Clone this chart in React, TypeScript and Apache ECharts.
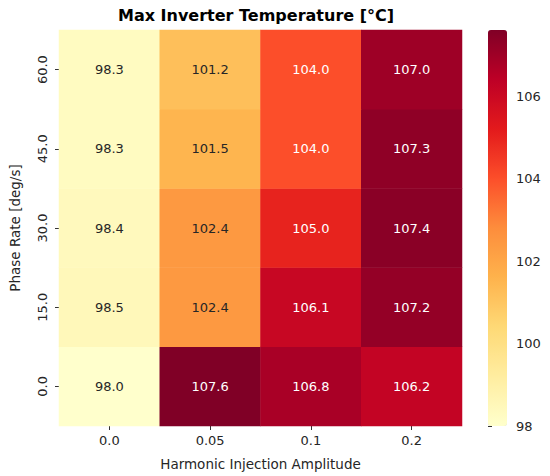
import React, { useEffect, useRef } from "react";
import * as echarts from "echarts";

const xCategories = ["0.0", "0.05", "0.1", "0.2"];
const yCategories = ["0.0", "15.0", "30.0", "45.0", "60.0"];
// rows indexed by yCategories (bottom to top), columns by xCategories
const values: number[][] = [
  [98.0, 107.6, 106.8, 106.2],
  [98.5, 102.4, 106.1, 107.2],
  [98.4, 102.4, 105.0, 107.4],
  [98.3, 101.5, 104.0, 107.3],
  [98.3, 101.2, 104.0, 107.0],
];
const colorMin = 98.0;
const colorMax = 107.6;
const colorbarTicks = [98, 100, 102, 104, 106];
const palette = ["#ffffcc", "#ffeda0", "#fed976", "#feb24c", "#fd8d3c", "#fc4e2a", "#e31a1c", "#bd0026", "#800026"];

const FONT = "DejaVu Sans";
const TEXT = "#262626";

export default function App() {
  const ref = useRef<HTMLDivElement>(null);
  useEffect(() => {
    document.body.style.margin = "0";
    const chart = echarts.init(ref.current!, null, { renderer: "svg" });
    const data: any[] = [];
    values.forEach((row, yi) =>
      row.forEach((v, xi) => {
        const t = (v - colorMin) / (colorMax - colorMin);
        data.push({
          value: [xi, yi, v],
          label: { color: t > 0.55 ? "#ffffff" : TEXT },
        });
      })
    );
    chart.setOption({
      animation: false,
      backgroundColor: "#ffffff",
      textStyle: { fontFamily: FONT },
      title: {
        text: "Max Inverter Temperature [°C]",
        left: 256,
        textAlign: "center",
        top: 7,
        padding: 0,
        textStyle: { fontFamily: FONT, fontWeight: "bold", fontSize: 16, color: "#000" },
      },
      grid: [
        { left: 50, top: 30, width: 412, height: 396 },
        { left: 488, top: 30, width: 19, height: 396 },
      ],
      xAxis: [
        {
          type: "category",
          gridIndex: 0,
          data: xCategories,
          name: "Harmonic Injection Amplitude",
          nameLocation: "middle",
          nameGap: 31,
          nameTextStyle: { fontFamily: FONT, fontSize: 13.5, color: TEXT },
          axisLine: { show: false },
          axisTick: { show: true, alignWithLabel: true, length: 4, lineStyle: { color: "#333" } },
          axisLabel: { fontFamily: FONT, fontSize: 13, color: TEXT, margin: 8 },
          splitLine: { show: false },
        },
        {
          type: "value",
          gridIndex: 1,
          show: false,
        },
      ],
      yAxis: [
        {
          type: "category",
          gridIndex: 0,
          data: yCategories,
          name: "Phase Rate [deg/s]",
          nameLocation: "middle",
          nameGap: 37,
          nameRotate: 90,
          nameTextStyle: { fontFamily: FONT, fontSize: 13.5, color: TEXT },
          axisLine: { show: false },
          axisTick: { show: true, alignWithLabel: true, length: 4, lineStyle: { color: "#333" } },
          axisLabel: { fontFamily: FONT, fontSize: 13, color: TEXT, rotate: 90, margin: 10 },
          splitLine: { show: false },
        },
        {
          type: "value",
          gridIndex: 1,
          position: "right",
          min: colorMin,
          max: colorMax,
          interval: 2,
          axisLine: { show: false },
          axisTick: { show: true, length: 4, lineStyle: { color: "#333" } },
          axisLabel: {
            fontFamily: FONT,
            fontSize: 13,
            color: TEXT,
            margin: 9,
            showMaxLabel: false,
            formatter: (v: number) => (colorbarTicks.includes(v) ? String(v) : ""),
          },
          splitLine: { show: false },
        },
      ],
      visualMap: {
        type: "continuous",
        min: colorMin,
        max: colorMax,
        calculable: false,
        seriesIndex: 0,
        orient: "vertical",
        left: 488,
        top: 30,
        padding: 0,
        itemWidth: 19,
        itemHeight: 396,
        inRange: { color: palette },
        showLabel: false,
        hoverLink: false,
      },
      series: [
        {
          type: "heatmap",
          xAxisIndex: 0,
          yAxisIndex: 0,
          data,
          label: {
            show: true,
            fontFamily: FONT,
            fontSize: 13,
            formatter: (p: any) => p.value[2].toFixed(1),
          },
          itemStyle: { borderWidth: 0 },
          emphasis: { disabled: true },
        },
        {
          type: "line",
          xAxisIndex: 1,
          yAxisIndex: 1,
          data: [],
        },
      ],
    });
    return () => chart.dispose();
  }, []);
  return <div ref={ref} style={{ width: 550, height: 476 }} />;
}
